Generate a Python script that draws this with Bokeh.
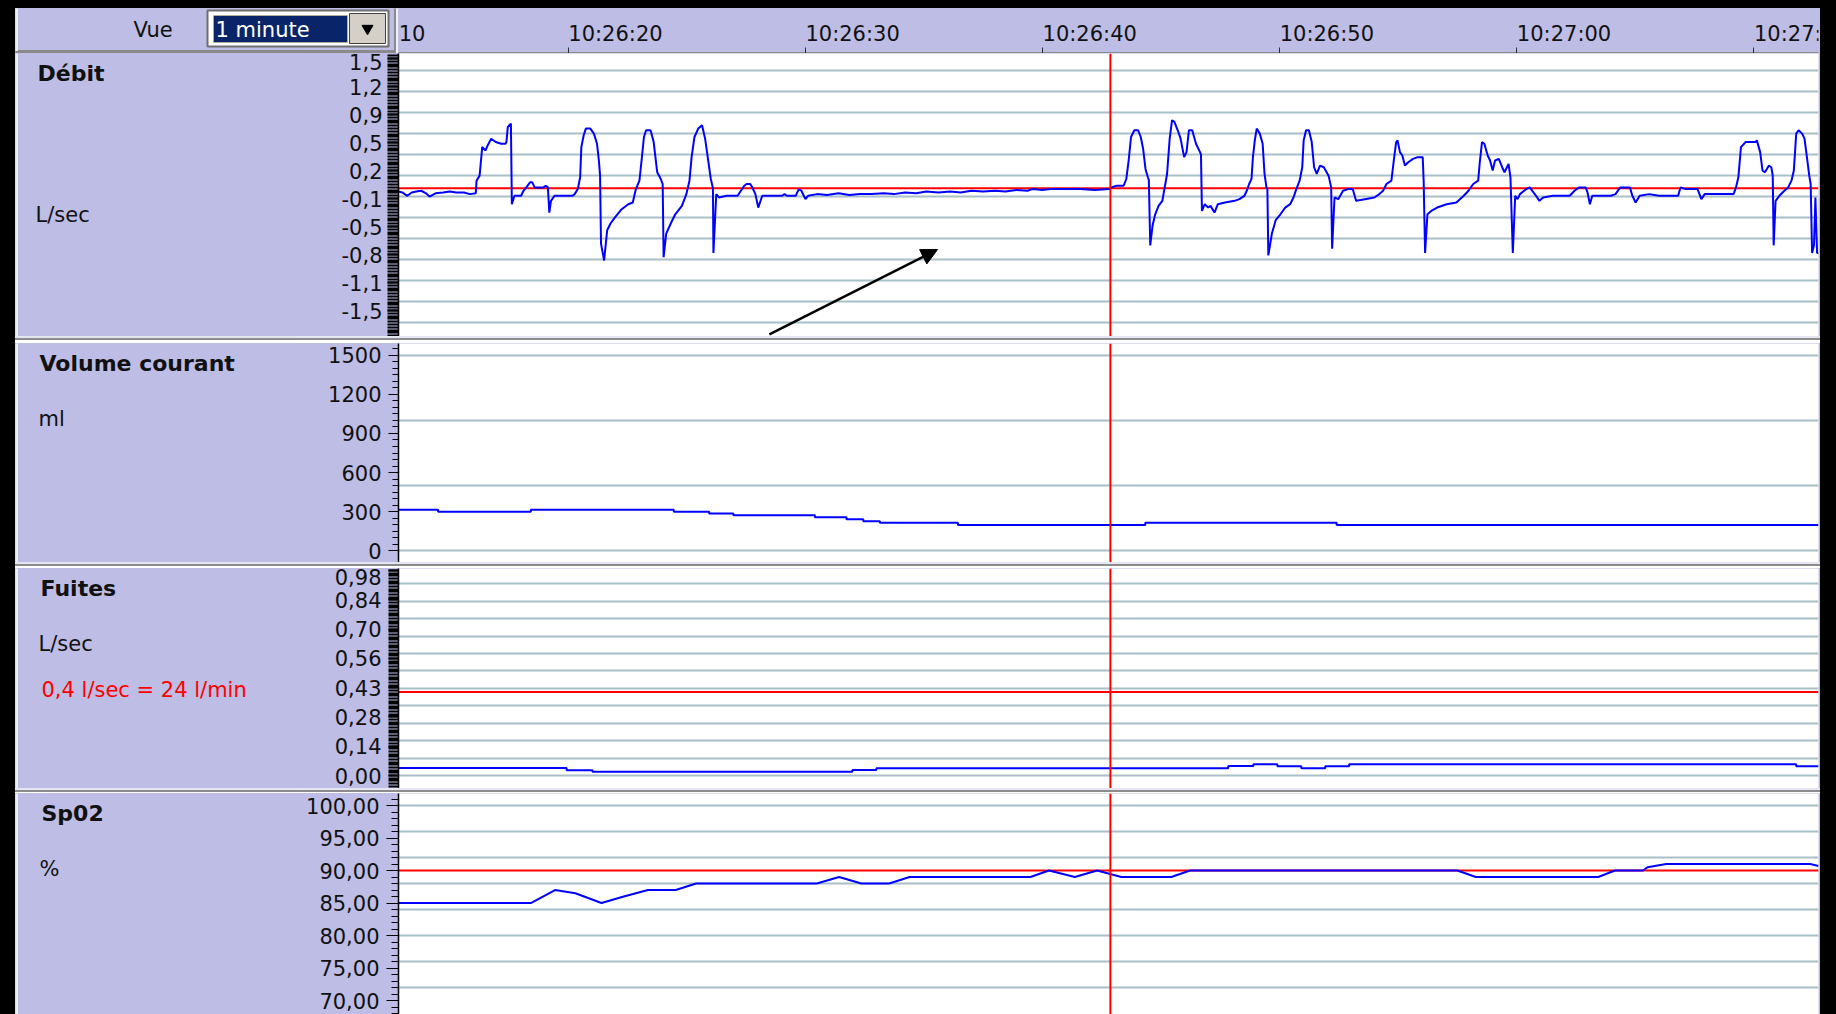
import pandas as pd
from bokeh.plotting import figure
from bokeh.layouts import column, row
from bokeh.models import (Range1d, FixedTicker, Span, Arrow, NormalHead, Div, Spacer,
                          SingleIntervalTicker, GlobalInlineStyleSheet)
from bokeh.core.properties import value
from bokeh.embed import file_html
from bokeh.resources import INLINE

# ------------------------------------------------------------------ data
# times are seconds after 10:26:00
VIEW_START, VIEW_END = 12.84, 72.72
CURSOR_T = 42.86

HDR_TICK_T = [10, 20, 30, 40, 50, 60, 70]
HDR_TICK_LABELS = ["10:26:10", "10:26:20", "10:26:30", "10:26:40", "10:26:50", "10:27:00", "10:27:10"]

DEBIT_T = [
    12.84, 13.00, 13.21, 13.40, 13.59, 13.80, 14.00, 14.15, 14.40, 14.72, 15.00, 15.28, 15.60, 15.85, 16.10,
    16.13, 16.26, 16.37, 16.51, 16.60, 16.75, 16.94, 17.17, 17.35, 17.39, 17.45, 17.58, 17.60, 17.62,
    17.73, 18.01, 18.11, 18.39, 18.48, 18.58, 18.95, 19.05, 19.14, 19.20, 19.27, 19.42, 20.18, 20.27,
    20.40, 20.50, 20.55, 20.65, 20.74, 20.93, 21.08, 21.21, 21.29, 21.34, 21.38, 21.51, 21.64, 21.78,
    21.96, 22.25, 22.53, 22.72, 22.85, 23.00, 23.09, 23.19, 23.28, 23.47, 23.60, 23.75, 23.90, 23.98,
    24.02, 24.13, 24.32, 24.51, 24.79, 24.98, 25.11, 25.20, 25.32, 25.48, 25.64, 25.77, 25.92, 26.01,
    26.10, 26.12, 26.24, 26.35, 26.67, 27.14, 27.23, 27.42, 27.52, 27.67, 27.76, 27.89, 28.01, 28.18,
    29.02, 29.12, 29.21, 29.59, 29.72, 29.83, 30.00, 30.11, 30.50, 30.91, 31.40, 31.85, 32.30, 32.79,
    33.30, 33.73, 34.20, 34.67, 35.10, 35.61, 36.10, 36.55, 37.00, 37.49, 38.00, 38.43, 38.90, 39.37,
    39.56, 40.00, 40.32, 40.90, 41.59, 42.20, 42.81, 42.91, 43.12, 43.42, 43.53, 43.63, 43.73, 43.87,
    44.03, 44.14, 44.24, 44.34, 44.44, 44.48, 44.54, 44.64, 44.75, 44.89, 45.05, 45.15, 45.25, 45.36,
    45.46, 45.56, 45.70, 45.82, 45.97, 46.07, 46.17, 46.31, 46.47, 46.64, 46.68, 46.72, 46.84, 46.98,
    47.08, 47.25, 47.39, 47.69, 48.10, 48.30, 48.51, 48.61, 48.71, 48.81, 48.87, 48.95, 49.03, 49.16,
    49.28, 49.36, 49.44, 49.48, 49.52, 49.67, 49.83, 50.03, 50.23, 50.44, 50.58, 50.70, 50.84, 50.95,
    51.01, 51.11, 51.23, 51.35, 51.45, 51.56, 51.70, 51.86, 52.06, 52.17, 52.21, 52.31, 52.47, 52.67,
    52.88, 53.08, 53.22, 53.59, 53.99, 54.20, 54.36, 54.50, 54.71, 54.81, 54.91, 54.97, 55.07, 55.17,
    55.28, 55.42, 55.62, 55.82, 56.03, 56.07, 56.13, 56.23, 56.39, 56.64, 57.04, 57.45, 57.76, 57.96,
    58.16, 58.37, 58.43, 58.53, 58.63, 58.77, 58.87, 58.98, 59.08, 59.24, 59.38, 59.48, 59.65, 59.73,
    59.83, 59.93, 60.03, 60.13, 60.40, 60.54, 60.81, 60.95, 61.11, 61.52, 62.23, 62.43, 62.63, 62.90,
    62.98, 63.08, 63.18, 63.96, 64.16, 64.36, 64.77, 64.87, 65.01, 65.18, 65.58, 65.99, 66.80, 66.90,
    67.11, 67.62, 67.78, 67.92, 68.23, 69.14, 69.24, 69.34, 69.45, 69.65, 70.06, 70.12, 70.26, 70.36,
    70.46, 70.63, 70.73, 70.79, 70.83, 70.91, 71.07, 71.28, 71.44, 71.58, 71.68, 71.78, 71.88, 72.03,
    72.13, 72.25, 72.33, 72.39, 72.45, 72.53, 72.59, 72.66, 72.72]
DEBIT_V = [
    -0.04, -0.05, -0.09, -0.05, -0.04, -0.03, -0.06, -0.10, -0.06, -0.05, -0.04, -0.05, -0.05, -0.07, -0.06,
    0.09, 0.15, 0.49, 0.45, 0.51, 0.59, 0.55, 0.53, 0.53, 0.55, 0.73, 0.77, 0.30, -0.19,
    -0.09, -0.09, -0.03, 0.07, 0.07, 0.01, 0.01, 0.03, 0.01, -0.29, -0.15, -0.09, -0.09, -0.07,
    -0.01, 0.13, 0.49, 0.63, 0.71, 0.71, 0.65, 0.53, 0.33, 0.15, -0.66, -0.86, -0.50, -0.42,
    -0.35, -0.25, -0.19, -0.17, -0.01, 0.09, 0.33, 0.61, 0.69, 0.69, 0.55, 0.19, 0.11, 0.05,
    -0.82, -0.54, -0.42, -0.31, -0.21, -0.07, 0.09, 0.37, 0.61, 0.71, 0.75, 0.59, 0.29, 0.11,
    0.00, -0.77, -0.07, -0.11, -0.09, -0.09, -0.05, 0.03, 0.05, 0.05, 0.01, -0.07, -0.23, -0.09,
    -0.09, -0.07, -0.09, -0.09, -0.01, -0.03, -0.13, -0.09, -0.07, -0.08, -0.06, -0.08, -0.07, -0.07,
    -0.06, -0.07, -0.05, -0.06, -0.04, -0.05, -0.04, -0.05, -0.03, -0.04, -0.03, -0.04, -0.02, -0.03,
    -0.01, -0.02, -0.01, -0.01, -0.01, -0.02, -0.01, 0.01, 0.03, 0.03, 0.11, 0.33, 0.61, 0.69,
    0.69, 0.61, 0.47, 0.23, 0.13, 0.10, -0.68, -0.44, -0.31, -0.21, -0.15, 0.01, 0.17, 0.59,
    0.81, 0.79, 0.69, 0.59, 0.37, 0.43, 0.69, 0.69, 0.53, 0.43, 0.40, -0.27, -0.19, -0.23,
    -0.21, -0.29, -0.19, -0.17, -0.15, -0.13, -0.09, -0.03, 0.05, 0.11, 0.37, 0.57, 0.71, 0.65,
    0.53, 0.17, 0.01, -0.01, -0.80, -0.54, -0.38, -0.31, -0.23, -0.19, -0.11, -0.01, 0.09, 0.25,
    0.57, 0.69, 0.69, 0.55, 0.25, 0.17, 0.27, 0.25, 0.15, 0.01, -0.72, -0.11, -0.13, -0.03,
    -0.01, -0.01, -0.15, -0.13, -0.11, -0.07, -0.03, 0.05, 0.09, 0.33, 0.55, 0.57, 0.43, 0.39,
    0.27, 0.31, 0.35, 0.37, 0.37, 0.09, -0.77, -0.31, -0.27, -0.23, -0.19, -0.17, -0.09, -0.03,
    0.05, 0.09, 0.29, 0.55, 0.53, 0.39, 0.33, 0.21, 0.33, 0.35, 0.25, 0.19, 0.29, 0.13,
    -0.77, -0.09, -0.13, -0.07, -0.01, 0.01, -0.09, -0.15, -0.11, -0.09, -0.09, -0.03, 0.01, 0.01,
    -0.05, -0.19, -0.09, -0.09, -0.07, 0.01, 0.01, -0.09, -0.17, -0.09, -0.07, -0.09, -0.09, 0.01,
    -0.01, -0.01, -0.13, -0.07, -0.07, -0.07, 0.01, 0.13, 0.49, 0.55, 0.55, 0.57, 0.43, 0.21,
    0.19, 0.27, 0.25, 0.15, -0.68, -0.15, -0.09, -0.03, 0.01, 0.09, 0.21, 0.65, 0.69, 0.65,
    0.59, 0.33, 0.15, 0.05, -0.77, -0.68, -0.11, -0.77, -0.77]
assert len(DEBIT_T) == len(DEBIT_V)

VOL_T = [12.84, 14.51, 18.42, 24.45, 25.94, 26.96, 30.40, 31.73, 32.44, 33.14, 36.43, 44.33, 52.40, 72.72]
VOL_ML = [313, 298, 313, 298, 285, 272, 256, 241, 226, 213, 197, 213, 197, 197]

FUITE_T = [12.84, 19.93, 21.02, 31.98, 32.99, 47.83, 48.89, 49.90, 50.91, 51.92, 52.93, 71.78, 72.72]
FUITE_V = [0.036, 0.025, 0.018, 0.026, 0.035, 0.045, 0.054, 0.044, 0.035, 0.044, 0.054, 0.044, 0.044]

SPO2_T = [12.84, 18.42, 19.44, 20.30, 21.40, 22.34, 23.36, 24.53, 25.39, 30.48, 31.42, 32.36, 33.53,
          34.39, 39.49, 40.27, 41.36, 42.30, 43.32, 45.43, 46.22, 57.49, 58.27, 63.43, 64.14, 65.32,
          65.51, 66.30, 72.37, 72.72]
SPO2_V = [85, 85, 87, 86.5, 85, 86, 87, 87, 88, 88, 89, 88, 88,
          89, 89, 90, 89, 90, 89, 89, 90, 90, 89, 89, 90, 90,
          90.5, 91, 91, 90.7]

DEBIT_REF, FUITE_REF, SPO2_REF = 0.0, 0.40, 90.0

DEBIT_LABELS = ["1,5", "1,2", "0,9", "0,5", "0,2", "-0,1", "-0,5", "-0,8", "-1,1", "-1,5", "-1,8"]
VOL_LABELS = ["0", "300", "600", "900", "1200", "1500"]
FUITE_LABELS = ["0,00", "0,14", "0,28", "0,43", "0,56", "0,70", "0,84", "0,98"]
SPO2_LABELS = ["70,00", "75,00", "80,00", "85,00", "90,00", "95,00", "100,00"]

# ------------------------------------------------------------------ style
LAV = "#BDBDE5"
GRID = "#AABFC8"
BLUE = "#0000FF"
RED = "#FF0000"
INK = "#111111"
FONT = "DejaVu Sans"
FS = "21px"

BASE_MS = pd.Timestamp("2010-01-01 10:26:00").value / 1e6


def ms(ts):
    return [BASE_MS + t * 1000.0 for t in ts]


XR = Range1d(BASE_MS + VIEW_START * 1000, BASE_MS + VIEW_END * 1000)
CHART_W, LEFT_W = 1522, 283
TOTAL_W = CHART_W + LEFT_W


def chart(height, ylo, yhi, grid_ticks, tick_pos, tick_labels, minor, major_out, minor_out, standoff,
          tick_w=1):
    p = figure(width=CHART_W, height=height, x_axis_type="datetime", x_range=XR,
               y_range=Range1d(ylo, yhi), x_axis_location=None, output_backend="svg",
               toolbar_location=None, title=None, min_border_left=100, min_border_right=2,
               min_border_top=0, min_border_bottom=0)
    p.background_fill_color = "white"
    p.border_fill_color = LAV
    p.outline_line_color = None
    p.xgrid.visible = False
    p.ygrid.ticker = FixedTicker(ticks=grid_ticks)
    p.ygrid.grid_line_color = GRID
    p.ygrid.grid_line_width = 2
    ax = p.yaxis[0]
    ax.ticker = FixedTicker(ticks=tick_pos, minor_ticks=minor)
    ax.major_label_overrides = dict(zip(tick_pos, tick_labels))
    ax.axis_line_color = "black"
    ax.axis_line_width = 1.5
    ax.major_tick_line_color = "black"
    ax.minor_tick_line_color = "black"
    ax.major_tick_line_width = tick_w
    ax.minor_tick_line_width = tick_w
    ax.major_tick_out = major_out
    ax.major_tick_in = 0
    ax.minor_tick_out = minor_out
    ax.minor_tick_in = 0
    ax.major_label_standoff = standoff
    ax.major_label_text_font = FONT
    ax.major_label_text_font_size = FS
    ax.major_label_text_color = INK
    p.add_layout(Span(location=ms([CURSOR_T])[0], dimension="height",
                      line_color=RED, line_width=2))
    return p


def ref_line(p, y):
    p.add_layout(Span(location=y, dimension="width", line_color=RED, line_width=2, level="underlay"))


def plain(width, height):
    # a bare figure whose data units are pixels, y counted downwards from the top
    p = figure(width=width, height=height, x_range=Range1d(0, width), y_range=Range1d(height, 0),
               x_axis_location=None, y_axis_location=None, output_backend="svg",
               toolbar_location=None, title=None, min_border=0)
    p.background_fill_color = LAV
    p.border_fill_color = LAV
    p.outline_line_color = None
    p.grid.visible = False
    return p


def label(p, x, y, txt, size=FS, bold=False, color=INK):
    p.text(x=[x], y=[y], text=[txt], text_font=value(FONT), text_font_size=size,
           text_font_style="bold" if bold else "normal",
           text_color=color, text_baseline="middle", text_align="left")


def left_panel(height, items):
    p = plain(LEFT_W, height)
    p.quad(left=[0], right=[2], top=[0], bottom=[height], color="#EEEEF8")
    for x, y, txt, bold, col in items:
        label(p, x, y, txt, size="22px" if bold else FS, bold=bold, color=col)
    return p


def panel_row(left, right):
    return row(left, right, spacing=0, styles={"background-color": LAV})


def sep(h):
    return Div(text="", width=TOTAL_W, height=h, margin=0,
               styles={"background": "linear-gradient(to bottom, #E6E6F2 0px, #E6E6F2 2px, "
                                     "#8C8C8C 2px, #8C8C8C 4px, #FFFFFF 4px, #FFFFFF 100%)"})


# ------------------------------------------------------------------ header
HDR_H = 45
hl = plain(383, HDR_H)
hl.quad(left=[0], right=[383], top=[42], bottom=[45], color="#8A8A8A")
hl.quad(left=[0], right=[2], top=[0], bottom=[42], color="#EEEEF8")
hl.quad(left=[379], right=[381], top=[0], bottom=[45], color="#8A8A8A")
hl.quad(left=[381], right=[383], top=[0], bottom=[45], color="#F2F2F2")
hl.quad(left=[192], right=[373], top=[2], bottom=[38], fill_color="#FFFFFF",
        line_color="#6E6E6E", line_width=2)
hl.quad(left=[198], right=[332], top=[7], bottom=[34], fill_color="#0A246A",
        line_color="#D8C878", line_width=1, line_dash="1 1")
hl.quad(left=[334], right=[370], top=[5], bottom=[35], fill_color="#D4D0C8",
        line_color="#404040", line_width=1)
hl.scatter(x=[352], y=[20], marker="inverted_triangle", size=11, color="black")
label(hl, 118, 21, "Vue")
label(hl, 200, 21, "1 minute", color="white")

hdr = figure(width=1422, height=HDR_H, x_axis_type="datetime", x_range=XR, y_range=Range1d(HDR_H, 0),
             x_axis_location="below", y_axis_location=None, output_backend="svg",
             toolbar_location=None, title=None, min_border_left=0, min_border_right=2,
             min_border_top=0, min_border_bottom=0)
hdr.background_fill_color = LAV
hdr.border_fill_color = LAV
hdr.outline_line_color = None
hdr.grid.visible = False
xa = hdr.xaxis[0]
xa.ticker = SingleIntervalTicker(interval=10000, num_minor_ticks=0)
xa.axis_line_color = "#8A8A8A"
xa.axis_line_width = 3
xa.major_tick_out = 0
xa.major_tick_in = 6
xa.major_tick_line_color = "#303030"
xa.minor_tick_line_color = None
xa.major_label_text_font_size = "1px"
xa.major_label_text_color = None
xa.major_label_standoff = 0
hdr.text(x=ms(HDR_TICK_T), y=[25] * len(HDR_TICK_T), text=HDR_TICK_LABELS,
         text_font=value(FONT), text_font_size=FS, text_color=INK,
         text_baseline="middle", text_align="left")

# ------------------------------------------------------------------ Débit
H1 = 283
p1 = chart(H1, -1.765, 1.604,
           [0.15 + 0.25 * k for k in range(-7, 6)],
           [0.21 + k / 3 for k in range(4, -7, -1)], DEBIT_LABELS,
           [0.21 + k / 30 for k in range(-60, 42)], 11, 11, 5, tick_w=2)
ref_line(p1, DEBIT_REF)
p1.line(ms(DEBIT_T), DEBIT_V, line_color=BLUE, line_width=2)
p1.add_layout(Arrow(end=NormalHead(size=16, fill_color="black", line_color="black"),
                    x_start=ms([28.48])[0], y_start=-1.74, x_end=ms([35.57])[0], y_end=-0.73,
                    line_color="black", line_width=2.5))
l1 = left_panel(H1, [(22, 20, "Débit", True, INK), (20, 161, "L/sec", False, INK)])

# ------------------------------------------------------------------ Volume courant
H2 = 219
p2 = chart(H2, -92, 1592, [0, 500, 1000, 1500],
           [0, 300, 600, 900, 1200, 1500], VOL_LABELS,
           [50 * k for k in range(0, 32)], 10, 6, 7)
p2.step(ms(VOL_T), VOL_ML, mode="after", line_color=BLUE, line_width=2)
l2 = left_panel(H2, [(24, 20, "Volume courant", True, INK), (23, 75, "ml", False, INK)])

# ------------------------------------------------------------------ Fuites
H3 = 220
p3 = chart(H3, -0.062, 0.990, [k / 12 for k in range(0, 12)],
           [0.14 * k for k in range(0, 8)], FUITE_LABELS,
           [0.14 / 11 * k for k in range(-4, 78)], 10, 10, 7, tick_w=2)
ref_line(p3, FUITE_REF)
p3.step(ms(FUITE_T), FUITE_V, mode="after", line_color=BLUE, line_width=2)
l3 = left_panel(H3, [(25, 20, "Fuites", True, INK), (23, 75, "L/sec", False, INK),
                     (26, 121, "0,4 l/sec = 24 l/min", False, RED)])

# ------------------------------------------------------------------ SpO2
H4 = 221
p4 = chart(H4, 67.85, 101.85, [72 + 4 * k for k in range(0, 8)],
           [70, 75, 80, 85, 90, 95, 100], SPO2_LABELS,
           [68 + k for k in range(0, 34)], 12, 7, 7)
ref_line(p4, SPO2_REF)
p4.line(ms(SPO2_T), SPO2_V, line_color=BLUE, line_width=2)
l4 = left_panel(H4, [(26, 20, "Sp02", True, INK), (24, 75, "%", False, INK)])

# ------------------------------------------------------------------ layout
body = column(panel_row(hl, hdr), panel_row(l1, p1), sep(7), panel_row(l2, p2), sep(6),
              panel_row(l3, p3), sep(5), panel_row(l4, p4), spacing=0)
page = column(Spacer(width=TOTAL_W + 15, height=8),
              row(Spacer(width=15, height=1006), body, spacing=0), spacing=0)
page.stylesheets = [GlobalInlineStyleSheet(
    css="html, body { background-color: #000000 !important; margin: 0 !important; "
        "padding: 0 !important; overflow: hidden !important; }")]

open("out.html", "w").write(file_html(page, INLINE))
